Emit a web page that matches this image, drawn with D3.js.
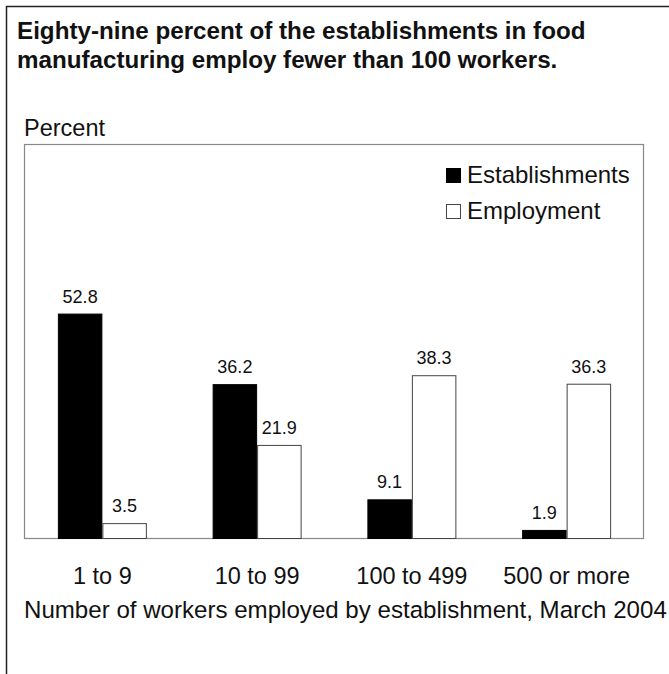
<!DOCTYPE html>
<html>
<head>
<meta charset="utf-8">
<script src="https://cdn.jsdelivr.net/npm/d3@7"></script>
<style>
  html, body { margin: 0; padding: 0; background: #fff; }
  svg { display: block; }
  text { font-family: "Liberation Sans", Arial, Helvetica, sans-serif; fill: #111; }
</style>
</head>
<body>
<svg id="chart" width="669" height="674"></svg>
<script>
const categories = ["1 to 9", "10 to 99", "100 to 499", "500 or more"];
const seriesNames = ["Establishments", "Employment"];
const establishments = [52.8, 36.2, 9.1, 1.9];
const employment = [3.5, 21.9, 38.3, 36.3];
const titleLines = [
  "Eighty-nine percent of the establishments in food",
  "manufacturing employ fewer than 100 workers."
];
const yLabel = "Percent";
const xLabel = "Number of workers employed by establishment, March 2004";

const data = categories.map((c, i) => ({
  cat: c,
  vals: [
    { key: seriesNames[0], v: establishments[i] },
    { key: seriesNames[1], v: employment[i] }
  ]
}));

const svg = d3.select("#chart");
const W = 669, H = 674;
const plot = { left: 24, right: 643, top: 144, bottom: 538 };

// outer frame (top and left only)
svg.append("path")
  .attr("d", `M6.5,${H} L6.5,6.5 L${W},6.5`)
  .attr("fill", "none").attr("stroke", "#222").attr("stroke-width", 1.5);

// title
svg.append("g").selectAll("text").data(titleLines).join("text")
  .attr("x", 17).attr("y", (d, i) => 39 + i * 29)
  .attr("font-size", 24.2).attr("font-weight", "bold")
  .text(d => d);

svg.append("text").attr("x", 24).attr("y", 136).attr("font-size", 23.5).text(yLabel);

// plot frame
svg.append("rect")
  .attr("x", plot.left + 0.5).attr("y", plot.top + 0.5)
  .attr("width", plot.right - plot.left).attr("height", plot.bottom - plot.top)
  .attr("fill", "none").attr("stroke", "#888").attr("stroke-width", 1.2);

const x0 = d3.scaleBand().domain(categories)
  .range([plot.left + 1, plot.right + 1]).paddingInner(0.425).paddingOuter(0.2125);
const x1 = d3.scaleBand().domain(seriesNames).range([0, x0.bandwidth()]);
const y = d3.scaleLinear().domain([0, 92.7]).range([plot.bottom, plot.top]);
const color = d3.scaleOrdinal().domain(seriesNames).range(["#000", "#fff"]);

const groups = svg.append("g").selectAll("g").data(data).join("g")
  .attr("transform", d => `translate(${x0(d.cat)},0)`);

groups.selectAll("rect").data(d => d.vals).join("rect")
  .attr("x", d => x1(d.key) + 0.5)
  .attr("y", d => y(d.v) + 0.5)
  .attr("width", x1.bandwidth() - 1)
  .attr("height", d => y(0) - y(d.v))
  .attr("fill", d => color(d.key))
  .attr("stroke", d => d.key === seriesNames[0] ? "#000" : "#444")
  .attr("stroke-width", 1);

groups.selectAll("text").data(d => d.vals).join("text")
  .attr("x", d => x1(d.key) + x1.bandwidth() / 2)
  .attr("y", d => y(d.v) - 11)
  .attr("text-anchor", "middle")
  .attr("font-size", 18)
  .text(d => d.v.toFixed(1));

// x axis labels (no line/ticks)
const xAxis = d3.axisBottom(x0).tickSize(0).tickPadding(0);
const gx = svg.append("g").attr("transform", `translate(0,${plot.bottom})`).call(xAxis);
gx.select(".domain").remove();
gx.selectAll("text")
  .attr("y", 46).attr("dy", 0)
  .attr("font-size", 23.5)
  .style("font-family", '"Liberation Sans", Arial, sans-serif')
  .attr("fill", "#111");

svg.append("text").attr("x", 24).attr("y", 618).attr("font-size", 24.1).text(xLabel);

// legend
const legend = svg.append("g").selectAll("g").data(seriesNames).join("g")
  .attr("transform", (d, i) => `translate(446,${168 + i * 36})`);
legend.append("rect")
  .attr("x", 0.5).attr("y", 0.5).attr("width", 14).attr("height", 14)
  .attr("fill", d => color(d)).attr("stroke", d => d === seriesNames[0] ? "#000" : "#444");
legend.append("text").attr("x", 21).attr("y", 14.5).attr("font-size", 24).text(d => d);
</script>
</body>
</html>
